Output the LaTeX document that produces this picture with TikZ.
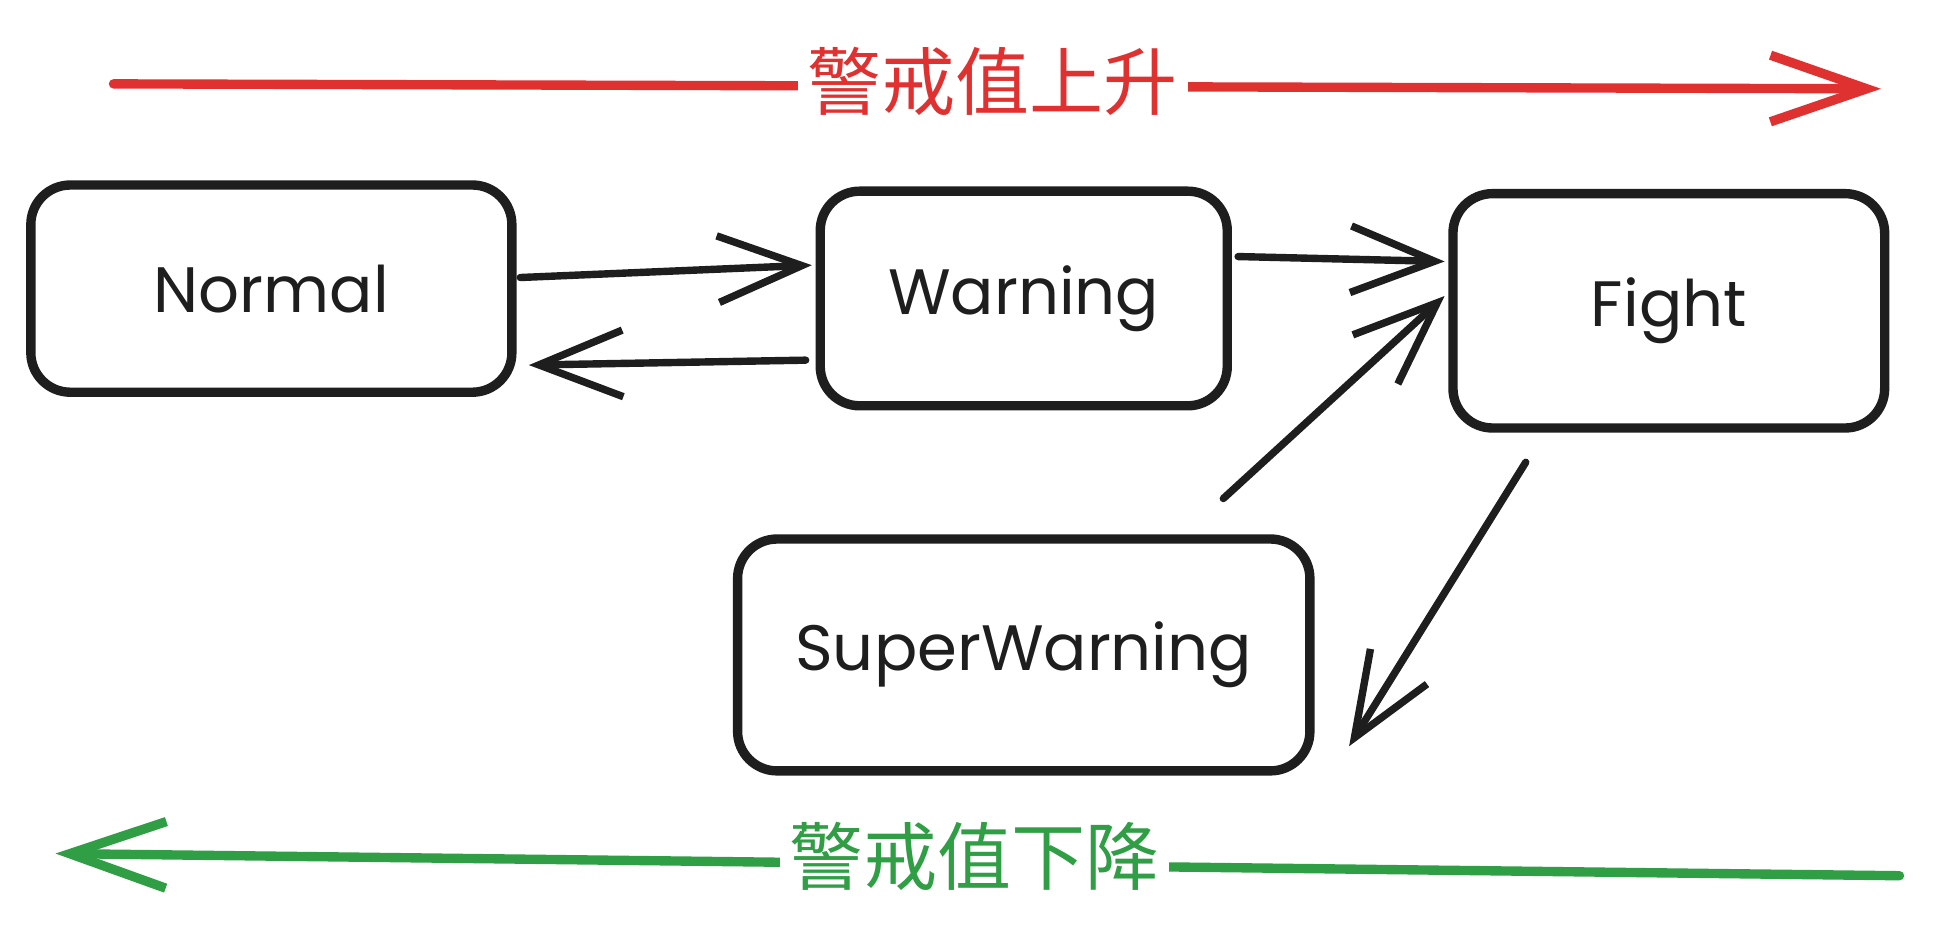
\documentclass[tikz,border=0pt]{standalone}
\usepackage{fontspec}
\setmainfont{Poppins}
\newfontfamily\cjk{Noto Sans CJK SC}
\usetikzlibrary{arrows.meta,calc}
\definecolor{inkc}{HTML}{1E1E1E}
\definecolor{redc}{HTML}{E03131}
\definecolor{greenc}{HTML}{2F9E44}
\tikzset{
  statebox/.style={draw=inkc, line width=3.8pt, rounded corners=16pt, fill=white,
    font=\fontsize{26}{30}\selectfont, text=inkc},
  conn/.style={draw=inkc, line width=3pt, line cap=round,
    -{Straight Barb[length=34pt,width=27pt,line width=3pt]}},
  bigarrow/.style={line width=3.8pt, line cap=round,
    -{Straight Barb[length=39pt,width=27pt,line width=3.8pt]}},
  cjklabel/.style={fill=white, inner sep=4pt, font=\cjk\fontsize{30}{33}\selectfont}
}
\begin{document}
\begin{tikzpicture}[x=0.5pt,y=-0.5pt]
\fill[white] (0,0) rectangle (1568,770);
\useasboundingbox (0,0) rectangle (1568,770);

% top red arrow
\coordinate (rs) at (92,68);
\coordinate (re) at (1525,72);
\draw[bigarrow, draw=redc] (rs) -- (re);
\node[cjklabel, text=redc] (up) at (805,66) {警戒值上升};

% bottom green arrow
\coordinate (gs) at (1540,710);
\coordinate (ge) at (45,692);
\draw[bigarrow, draw=greenc] (gs) -- (ge);
\node[cjklabel, text=greenc] (down) at (790,694) {警戒值下降};

% states
\node[statebox, minimum width=195pt, minimum height=84pt] (nor) at (220,234) {Normal};
\node[statebox, minimum width=165pt, minimum height=87pt] (war) at (830,242) {Warning};
\node[statebox, minimum width=175pt, minimum height=95pt] (fig) at (1353,252) {Fight};
\node[statebox, minimum width=232pt, minimum height=94pt] (sup) at (830,531) {SuperWarning};

% connectors
\draw[conn] ([shift={(1.5pt,4.5pt)}]nor.east) -- ([shift={(-1.5pt,13.5pt)}]war.west);
\draw[conn] ([shift={(-4pt,-25pt)}]war.west) -- ([shift={(5pt,-31pt)}]nor.east);
\draw[conn] ([shift={(2.5pt,17pt)}]war.east) -- ([shift={(-1.5pt,20pt)}]fig.west);
\draw[conn] ([shift={(-37pt,14.5pt)}]sup.north east) -- ([shift={(-1.5pt,6pt)}]fig.west);
\draw[conn] ([shift={(-58pt,-12pt)}]fig.south) -- ([shift={(14pt,-37pt)}]sup.east);
\end{tikzpicture}
\end{document}
